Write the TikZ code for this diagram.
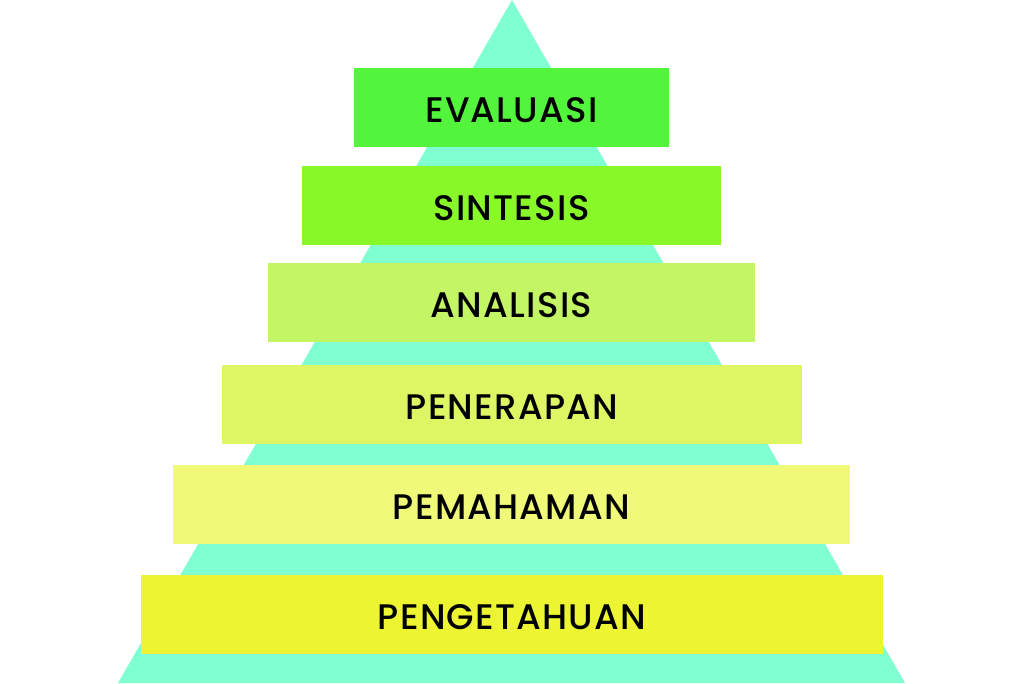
\documentclass[tikz,border=0pt]{standalone}
\usepackage{fontspec}
\setmainfont{Poppins}[UprightFont=* Medium, LetterSpace=3.5]
\usepackage{tikz}

\definecolor{piramid}{RGB}{128,255,208}
\definecolor{levelA}{RGB}{82,245,60}
\definecolor{levelB}{RGB}{136,248,40}
\definecolor{levelC}{RGB}{196,245,100}
\definecolor{levelD}{RGB}{222,245,100}
\definecolor{levelE}{RGB}{240,250,120}
\definecolor{levelF}{RGB}{237,245,50}

\begin{document}
\begin{tikzpicture}[x=1pt,y=-1pt,
	level/.style={rectangle, inner sep=0pt, minimum height=79pt, text height=30pt, text depth=0pt, font=\fontsize{35.5}{35.5}\selectfont}]
			\useasboundingbox (0,0) rectangle (1024,683);
			\fill[piramid] (512,0) -- (905,683) -- (118,683) -- cycle;
			\node[level, fill=levelA, minimum width=315pt] (evaluasi) at (511.5,107.5) {EVALUASI};
			\node[level, fill=levelB, minimum width=419pt] (sintesis) at (511.5,205.5) {SINTESIS};
			\node[level, fill=levelC, minimum width=487pt] (analisis) at (511.5,302) {ANALISIS};
			\node[level, fill=levelD, minimum width=580pt] (penerapan) at (512,404) {PENERAPAN};
			\node[level, fill=levelE, minimum width=677pt] (pemahaman) at (511.5,504) {PEMAHAMAN};
			\node[level, fill=levelF, minimum width=742pt] (pengetahuan) at (512,614.5) {PENGETAHUAN};
		\end{tikzpicture}
\end{document}
